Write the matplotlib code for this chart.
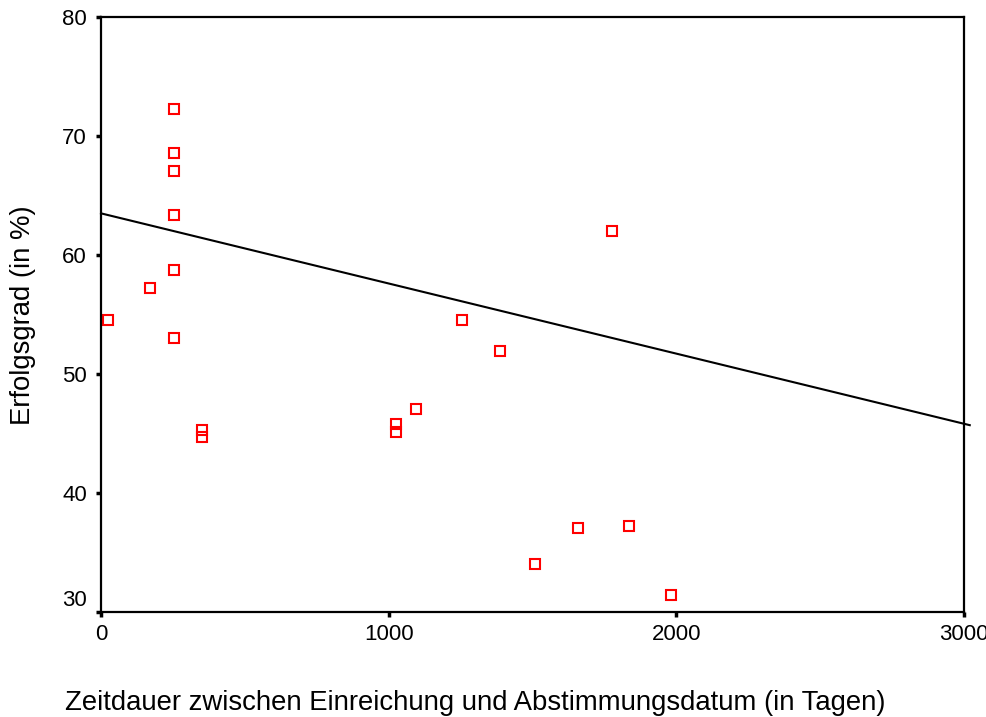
import matplotlib
matplotlib.use("Agg")
import matplotlib.pyplot as plt
from matplotlib.transforms import ScaledTranslation

plt.rcParams['font.family'] = ['Liberation Sans', 'DejaVu Sans']

# Data
days = [24, 170, 254, 254, 254, 254, 254, 254, 351, 351,
        1025, 1025, 1095, 1255, 1387, 1509, 1658, 1776, 1835, 1981]
success = [54.5, 57.2, 72.3, 68.6, 67.1, 63.4, 58.7, 53.0, 45.3, 44.7,
           45.8, 45.1, 47.1, 54.5, 51.9, 34.0, 37.1, 62.0, 37.2, 31.4]

fit_x = [0, 3020]
fit_y = [63.5, 45.7]

x_ticks = [0, 1000, 2000, 3000]
y_ticks = [30, 40, 50, 60, 70, 80]

fig = plt.figure(figsize=(9.87, 7.17), dpi=100)
ax = fig.add_axes([101/987, 1-612/717, (964-101)/987, (612-17)/717])

ax.plot(days, success, linestyle='none', marker='s', markersize=6.5,
        markerfacecolor='none', markeredgecolor='#ff0000', markeredgewidth=1.5)
ax.plot(fit_x, fit_y, color='black', linewidth=1.5, clip_on=False)

ax.set_xlim(0, 3000)
ax.set_ylim(30, 80)
ax.set_xticks(x_ticks)
ax.set_yticks(y_ticks)
ax.set_xticklabels([str(t) for t in x_ticks])
ax.set_yticklabels([str(t) for t in y_ticks])

for s in ax.spines.values():
    s.set_linewidth(1.6)
ax.tick_params(axis='both', direction='out', length=3.5, width=2.5,
               labelsize=16, pad=5)
ax.tick_params(axis='y', pad=6.5)

# shift the "30" label upward as in the reference
lbl30 = ax.get_yticklabels()[0]
lbl30.set_transform(lbl30.get_transform() + ScaledTranslation(0, 10/72, fig.dpi_scale_trans))

fig.text(475/987, 1-703/717, 'Zeitdauer zwischen Einreichung und Abstimmungsdatum (in Tagen)',
         ha='center', va='center', fontsize=19.8)
fig.text(23/987, 1-315/717, 'Erfolgsgrad (in %)', rotation=90,
         ha='center', va='center', fontsize=19.8)

fig.savefig('out.png', dpi=100)
